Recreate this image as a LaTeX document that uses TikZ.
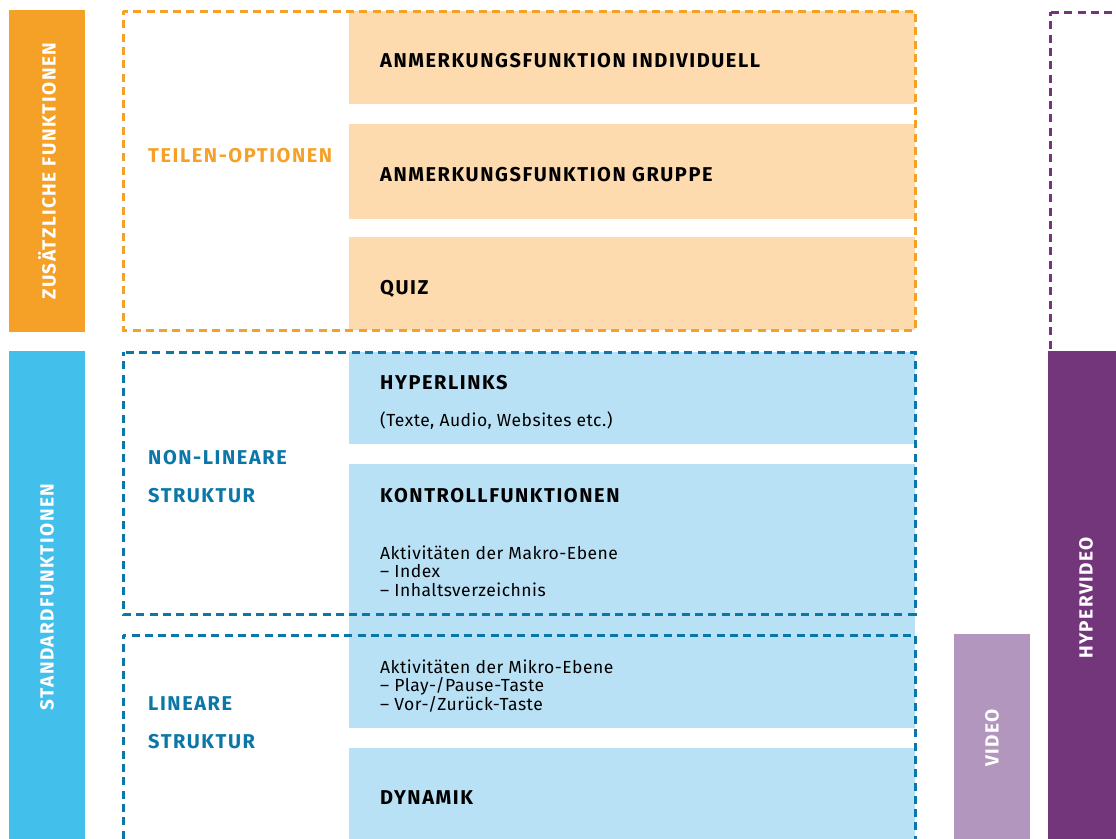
\documentclass[tikz,border=0pt]{standalone}
\usepackage{fontspec}
\setmainfont{Fira Sans}
\newfontfamily\capsfont[LetterSpace=7.8]{Fira Sans}
\newfontfamily\notefont[LetterSpace=2.8]{Fira Sans}
\usetikzlibrary{positioning}

\definecolor{orangebar}{HTML}{F5A128}
\definecolor{orangelight}{HTML}{FDDBAE}
\definecolor{bluebar}{HTML}{42BFEB}
\definecolor{bluelight}{HTML}{B9E1F6}
\definecolor{bluedark}{HTML}{0A77A8}
\definecolor{videolight}{HTML}{B396BD}
\definecolor{hyperpurple}{HTML}{73367B}

\begin{document}
\begin{tikzpicture}[x=1pt, y=-1pt,
    bar/.style={fill=#1, inner sep=0pt, outer sep=0pt, anchor=north west, minimum width=76pt},
    field/.style={fill=#1, inner sep=0pt, outer sep=0pt, anchor=north west, minimum width=566pt},
    frame/.style={draw=#1, line width=3pt, dash pattern=on 8pt off 5.3pt, dash phase=4pt},
    head/.style={anchor=base west, inner sep=0pt, text=#1, font=\capsfont\bfseries\fontsize{20}{22}\selectfont},
    head/.default=black,
    side/.style={rotate=90, inner sep=0pt, text=white, font=\capsfont\bfseries\fontsize{19}{22}\selectfont},
    plain/.style={anchor=base west, inner sep=0pt, align=left, font=\notefont\fontsize{17.5}{18.3}\selectfont}]
  \path[use as bounding box] (0,0) rectangle (1116,838);
  \clip (0,0) rectangle (1116,838);

  % bars
  \node[bar=orangebar, minimum height=322pt] (extra) at (9,10) {};
  \node[bar=bluebar, minimum height=500pt] (standard) at (9,351) {};
  \node[bar=videolight, minimum height=220pt] (video) at (954,634) {};
  \draw[frame=hyperpurple] (1050,12) rectangle (1150,360);
  \node[bar=hyperpurple, minimum height=500pt] (hyper) at (1048,351) {};

  % fields
  \node[field=orangelight, minimum height=93pt] (indiv) at (349,11) {};
  \node[field=orangelight, minimum height=95pt] (group) at (349,124) {};
  \node[field=orangelight, minimum height=93pt] (quiz) at (349,237) {};
  \node[field=bluelight, minimum height=92pt] (links) at (349,352) {};
  \node[field=bluelight, minimum height=264pt] (control) at (349,464) {};
  \node[field=bluelight, minimum height=100pt] (dynamic) at (349,748) {};

  % dashed groups
  \draw[frame=orangebar] (123,11) rectangle (915,330);
  \draw[frame=bluedark] (123,352) rectangle (915,614);
  \draw[frame=bluedark] (123,635) rectangle (915,880);

  % texts
  \node[head] (t-indiv) at (380,67) {ANMERKUNGSFUNKTION INDIVIDUELL};
  \node[head] (t-group) at (380,181) {ANMERKUNGSFUNKTION GRUPPE};
  \node[head] (t-quiz) at (380,294) {QUIZ};
  \node[head] (t-links) at (380,389) {HYPERLINKS};
  \node[plain] (t-sub) at (380,426) {(Texte, Audio, Websites etc.)};
  \node[head] (t-control) at (380,502) {KONTROLLFUNKTIONEN};
  \node[plain] (t-macro) at (380,596) {Aktivitäten der Makro-Ebene\\– Index\\– Inhaltsverzeichnis};
  \node[plain] (t-micro) at (380,710) {Aktivitäten der Mikro-Ebene\\– Play-/Pause-Taste\\– Vor-/Zurück-Taste};
  \node[head] (t-dynamic) at (380,804) {DYNAMIK};

  \node[head=orangebar] (t-share) at (148,162) {TEILEN-OPTIONEN};
  \node[head=bluedark] (t-nonlin) at (148,464) {NON-LINEARE};
  \node[head=bluedark] (t-nonlin2) at (148,502) {STRUKTUR};
  \node[head=bluedark] (t-lin) at (148,710) {LINEARE};
  \node[head=bluedark] (t-lin2) at (148,748) {STRUKTUR};

  \node[side] (l-extra) at (47,171) {ZUSÄTZLICHE FUNKTIONEN};
  \node[side] (l-standard) at (47,597) {STANDARDFUNKTIONEN};
  \node[side] (l-video) at (992,738) {VIDEO};
  \node[side] (l-hyper) at (1086,598) {HYPERVIDEO};
\end{tikzpicture}
\end{document}
